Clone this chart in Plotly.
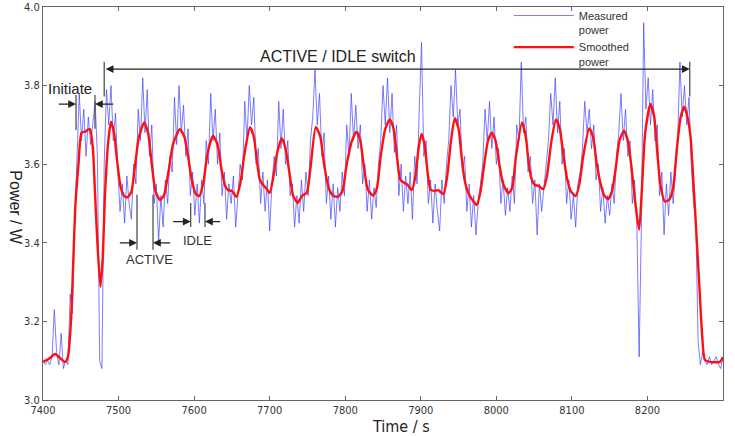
import plotly.graph_objects as go

# ---- data ----
measured_time = list(range(7400, 8301, 3))
measured_power = [
    3.10, 3.09, 3.10, 3.09, 3.11, 3.23, 3.12, 3.09, 3.17, 3.08,
    3.10, 3.09, 3.27, 3.22, 3.45, 3.60, 3.78, 3.66, 3.74, 3.62,
    3.72, 3.65, 3.71, 3.76, 3.62, 3.10, 3.08, 3.60, 3.79, 3.70,
    3.80, 3.66, 3.73, 3.58, 3.48, 3.55, 3.45, 3.57, 3.50, 3.46,
    3.60, 3.55, 3.74, 3.66, 3.82, 3.68, 3.79, 3.62, 3.70, 3.50,
    3.55, 3.40, 3.52, 3.44, 3.56, 3.50, 3.62, 3.58, 3.77, 3.65,
    3.80, 3.68, 3.75, 3.62, 3.69, 3.52, 3.58, 3.47, 3.55, 3.45,
    3.56, 3.50, 3.66, 3.60, 3.78, 3.66, 3.74, 3.60, 3.68, 3.52,
    3.58, 3.46, 3.55, 3.50, 3.57, 3.44, 3.52, 3.60, 3.56, 3.76,
    3.66, 3.80, 3.70, 3.77, 3.60, 3.64, 3.50, 3.58, 3.48, 3.56,
    3.43, 3.55, 3.62, 3.57, 3.76, 3.64, 3.74, 3.60, 3.66, 3.52,
    3.55, 3.44, 3.52, 3.45, 3.56, 3.48, 3.58, 3.52, 3.66, 3.72,
    3.84, 3.70, 3.78, 3.62, 3.68, 3.50, 3.57, 3.46, 3.55, 3.44,
    3.54, 3.48, 3.58, 3.52, 3.70, 3.62, 3.78, 3.66, 3.75, 3.64,
    3.70, 3.55, 3.60, 3.48, 3.56, 3.46, 3.54, 3.49, 3.60, 3.66,
    3.80, 3.70, 3.82, 3.68, 3.78, 3.63, 3.70, 3.52, 3.60, 3.48,
    3.57, 3.50, 3.58, 3.46, 3.62, 3.55, 3.74, 3.91, 3.62, 3.66,
    3.50, 3.56, 3.45, 3.55, 3.48, 3.43, 3.56, 3.50, 3.60, 3.66,
    3.80, 3.72, 3.84, 3.70, 3.74, 3.58, 3.62, 3.48, 3.55, 3.44,
    3.52, 3.42, 3.50, 3.55, 3.60, 3.74, 3.66, 3.76, 3.64, 3.72,
    3.60, 3.64, 3.50, 3.56, 3.47, 3.54, 3.48, 3.57, 3.50, 3.70,
    3.66, 3.86, 3.68, 3.72, 3.58, 3.62, 3.50, 3.56, 3.42, 3.55,
    3.48, 3.54, 3.60, 3.66, 3.78, 3.70, 3.82, 3.68, 3.76, 3.60,
    3.64, 3.50, 3.56, 3.46, 3.52, 3.44, 3.55, 3.58, 3.64, 3.76,
    3.68, 3.74, 3.64, 3.70, 3.56, 3.60, 3.48, 3.54, 3.45, 3.52,
    3.47, 3.55, 3.50, 3.62, 3.68, 3.78, 3.66, 3.74, 3.62, 3.66,
    3.50, 3.56, 3.44, 3.11, 3.45, 3.96, 3.74, 3.82, 3.70, 3.79,
    3.66, 3.70, 3.52, 3.58, 3.42, 3.55, 3.47, 3.58, 3.50, 3.57,
    3.66, 3.86, 3.72, 3.80, 3.70, 3.77, 3.60, 3.50, 3.46, 3.15,
    3.09, 3.12, 3.10, 3.09, 3.11, 3.09, 3.10, 3.11, 3.09, 3.08,
    3.11,
]

smoothed_time = [
    7400, 7408, 7416, 7422, 7429, 7433, 7437, 7440, 7443, 7447, 7451, 7456, 7462, 7466, 7469, 7472, 7476, 7479,
    7482, 7486, 7490, 7494, 7498, 7503, 7508, 7512, 7517, 7522, 7527, 7534, 7539, 7544, 7549, 7555, 7560, 7566,
    7572, 7581, 7587, 7592, 7597, 7602, 7607, 7612, 7618, 7625, 7631, 7636, 7641, 7645, 7650, 7656, 7661, 7667,
    7674, 7679, 7683, 7687, 7691, 7695, 7700, 7705, 7710, 7716, 7721, 7726, 7731, 7737, 7743, 7749, 7754, 7761,
    7767, 7772, 7778, 7784, 7790, 7796, 7802, 7809, 7815, 7820, 7825, 7830, 7837, 7842, 7847, 7853, 7859, 7864,
    7869, 7873, 7878, 7883, 7888, 7893, 7897, 7901, 7905, 7909, 7913, 7918, 7923, 7930, 7935, 7940, 7945, 7950,
    7954, 7958, 7963, 7968, 7974, 7979, 7984, 7989, 7994, 7999, 8004, 8009, 8016, 8021, 8026, 8034, 8039, 8043,
    8047, 8051, 8056, 8062, 8067, 8073, 8079, 8084, 8089, 8094, 8099, 8105, 8110, 8115, 8123, 8128, 8133, 8138,
    8143, 8148, 8153, 8158, 8163, 8169, 8174, 8179, 8184, 8189, 8193, 8197, 8204, 8209, 8213, 8217, 8223, 8229,
    8234, 8239, 8244, 8249, 8253, 8257, 8261, 8265, 8269, 8272, 8276, 8282, 8290, 8296, 8300,
]
smoothed_power = [
    3.097, 3.105, 3.117, 3.108, 3.097, 3.110, 3.200, 3.350, 3.500, 3.600, 3.680, 3.683, 3.690, 3.640, 3.520, 3.400, 3.288, 3.360,
    3.520, 3.650, 3.708, 3.680, 3.610, 3.540, 3.518, 3.516, 3.530, 3.600, 3.670, 3.706, 3.680, 3.600, 3.530, 3.509, 3.520, 3.580,
    3.650, 3.689, 3.670, 3.620, 3.560, 3.525, 3.519, 3.550, 3.630, 3.672, 3.650, 3.590, 3.545, 3.534, 3.532, 3.517, 3.550, 3.630,
    3.694, 3.670, 3.610, 3.560, 3.548, 3.540, 3.527, 3.570, 3.630, 3.666, 3.640, 3.580, 3.520, 3.502, 3.520, 3.527, 3.590, 3.695,
    3.670, 3.600, 3.540, 3.520, 3.517, 3.530, 3.600, 3.660, 3.683, 3.660, 3.590, 3.535, 3.520, 3.540, 3.620, 3.690, 3.714, 3.690,
    3.610, 3.560, 3.553, 3.547, 3.534, 3.570, 3.640, 3.677, 3.650, 3.580, 3.535, 3.532, 3.534, 3.524, 3.570, 3.660, 3.717, 3.690,
    3.620, 3.560, 3.526, 3.510, 3.496, 3.530, 3.600, 3.660, 3.680, 3.660, 3.600, 3.550, 3.526, 3.540, 3.620, 3.706, 3.670, 3.600,
    3.560, 3.547, 3.545, 3.536, 3.570, 3.660, 3.714, 3.690, 3.620, 3.560, 3.530, 3.519, 3.550, 3.620, 3.691, 3.670, 3.600, 3.550,
    3.520, 3.511, 3.530, 3.590, 3.660, 3.685, 3.660, 3.590, 3.500, 3.433, 3.550, 3.680, 3.753, 3.720, 3.630, 3.550, 3.505, 3.510,
    3.540, 3.640, 3.720, 3.746, 3.720, 3.670, 3.550, 3.416, 3.280, 3.178, 3.102, 3.097, 3.096, 3.097, 3.109,
]

x_ticks = [7400, 7500, 7600, 7700, 7800, 7900, 8000, 8100, 8200, 8300]
y_ticks = [3.0, 3.2, 3.4, 3.6, 3.8, 4.0]

assert len(measured_time) == len(measured_power)
assert len(smoothed_time) == len(smoothed_power)

TICK_FONT = "Liberation Sans Narrow, DejaVu Sans Condensed, Arial Narrow, Arial, sans-serif"
TEXT_FONT = "Liberation Sans, Arial, sans-serif"
INK = "#222222"

fig = go.Figure()
fig.add_trace(go.Scatter(
    x=measured_time, y=measured_power, mode="lines", name="Measured<br>power",
    line=dict(color="rgba(60,60,255,0.75)", width=0.9),
))
fig.add_trace(go.Scatter(
    x=smoothed_time, y=smoothed_power, mode="lines", name="Smoothed<br>power",
    line=dict(color="#ff1010", width=2.4, shape="spline", smoothing=0.6),
))

# vertical marker lines for annotations
vlines = [
    (7481, 3.772, 3.861), (8256, 3.772, 3.861),
    (7443.7, 3.687, 3.776), (7468.8, 3.690, 3.776),
    (7524.4, 3.382, 3.522), (7545.6, 3.382, 3.522),
    (7595.5, 3.440, 3.501), (7614.4, 3.440, 3.501),
]
shapes = []
for vx, y0, y1 in vlines:
    shapes.append(dict(type="line", xref="x", yref="y", x0=vx, x1=vx, y0=y0, y1=y1,
                       line=dict(color="#444444", width=1.2)))

def arrow(x_head, x_tail, y, both=False):
    return dict(x=x_head, y=y, ax=x_tail, ay=y, xref="x", yref="y", axref="x", ayref="y",
                text="", showarrow=True, arrowhead=2, arrowsize=1.3, arrowwidth=1.2,
                arrowcolor=INK, arrowside="end+start" if both else "end",
                startarrowhead=2, startarrowsize=1.3)

annotations = [
    arrow(8256, 7481, 3.842, both=True),
    arrow(7443.7, 7419, 3.753), arrow(7468.8, 7495, 3.753),
    arrow(7524.4, 7499.7, 3.400), arrow(7545.6, 7570.3, 3.400),
    arrow(7595.5, 7570.3, 3.454), arrow(7614.4, 7636.5, 3.454),
    dict(x=7790, y=3.873, xref="x", yref="y", text="ACTIVE / IDLE switch", showarrow=False,
         font=dict(family=TEXT_FONT, size=16, color=INK)),
    dict(x=7435.7, y=3.793, xref="x", yref="y", text="Initiate", showarrow=False,
         font=dict(family=TEXT_FONT, size=15, color=INK)),
    dict(x=7540.7, y=3.358, xref="x", yref="y", text="ACTIVE", showarrow=False,
         font=dict(family=TEXT_FONT, size=13, color="#333333")),
    dict(x=7604.7, y=3.405, xref="x", yref="y", text="IDLE", showarrow=False,
         font=dict(family=TEXT_FONT, size=13, color="#333333")),
    dict(x=0.526, y=-0.068, xref="paper", yref="paper", yanchor="middle", text="Time / s", showarrow=False,
         font=dict(family=TICK_FONT, size=16, color=INK)),
    dict(x=-0.041, y=0.49, xref="paper", yref="paper", xanchor="center", yanchor="middle",
         text="Power / W", textangle=90, showarrow=False,
         font=dict(family=TEXT_FONT, size=16, color=INK)),
]

axis_common = dict(showline=True, linecolor="#666666", linewidth=1.2, mirror="ticks",
                   ticks="inside", ticklen=4, tickcolor="#666666", showgrid=False, zeroline=False,
                   automargin=False,
                   tickfont=dict(family=TICK_FONT, size=11, color="#333333"))

fig.update_layout(
    width=735, height=436,
    margin=dict(l=43, r=12, t=7, b=36, autoexpand=False),
    paper_bgcolor="white", plot_bgcolor="white",
    showlegend=True,
    legend=dict(x=0.685, y=1.013, xanchor="left", yanchor="top", bgcolor="rgba(0,0,0,0)",
                font=dict(family=TEXT_FONT, size=11, color="#333333"), tracegroupgap=0,
                itemwidth=60, valign="top"),
    xaxis=dict(range=[7400, 8300], tickvals=x_ticks, ticktext=[str(v) for v in x_ticks], **axis_common),
    yaxis=dict(range=[3.0, 4.0], tickvals=y_ticks, ticktext=[f"{v:.1f}" for v in y_ticks], **axis_common),
    shapes=shapes, annotations=annotations,
)

fig.write_html("out.html", config={"displayModeBar": False},
               post_script="document.body.style.margin='0';document.body.style.overflow='hidden';")
